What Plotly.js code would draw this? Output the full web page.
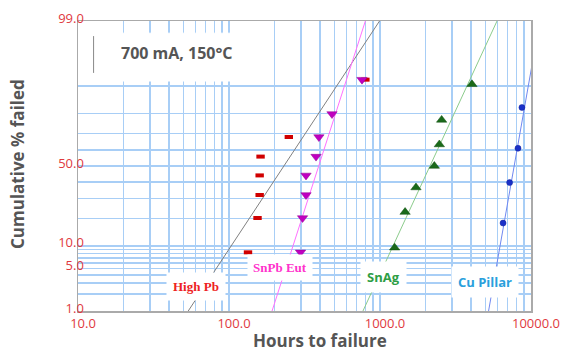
<!DOCTYPE html>
<html>
<head>
<meta charset="utf-8">
<script src="https://cdn.plot.ly/plotly-3.0.1.min.js"></script>
<style>html,body{margin:0;padding:0;background:#fff;}#chart{width:567px;height:352px;}</style>
</head>
<body>
<div id="chart"></div>
<script>
// ---- data (hours to failure, cumulative % failed) ----
const highPbHours = [133.6, 154.5, 159.6, 159.6, 161.8, 249, 800];
const highPbPct   = [8.3, 20.2, 32.1, 44.0, 56.0, 67.9, 91.7];
const snpbHours   = [297.6, 307, 323.6, 323.6, 377, 394, 481, 760];
const snpbPct     = [8.3, 20.2, 32.1, 44.0, 56.0, 67.9, 79.8, 91.7];
const snagHours   = [1250, 1466, 1731, 2290, 2472, 2560, 4064];
const snagPct     = [9.5, 23, 36.5, 50, 63.5, 77, 90.5];
const cuHours     = [6530, 7220, 8200, 8710];
const cuPct       = [18, 39.5, 61.2, 82.6];
// fitted lognormal lines (endpoints: hours at 1% and 99%)
const highPbFitHours = [53.7, 993];
const snpbFitHours   = [192.8, 800];
const snagFitHours   = [771, 5957];
const cuFitHours     = [5236, 11430];
const fitPct         = [1, 99];
// axis ticks
const pctGrid   = [1,2,3,4,5,6,7,8,9,10,20,30,40,50,60,70,80,90,99];
const pctLabels = {1:'1.0', 5:'5.0', 10:'10.0', 50:'50.0', 99:'99.0'};
const hourGrid  = [10,20,30,40,50,60,70,80,90,100,200,300,400,500,600,700,800,900,1000,2000,3000,4000,5000,6000,7000,8000,9000,10000];
const hourLabels = {10:'10.0', 100:'100.0', 1000:'1000.0', 10000:'10000.0'};

// normal-probability scale (inverse normal CDF, Acklam)
function probit(p){
  const a=[-3.969683028665376e+01,2.209460984245205e+02,-2.759285104469687e+02,1.383577518672690e+02,-3.066479806614716e+01,2.506628277459239e+00];
  const b=[-5.447609879822406e+01,1.615858368580409e+02,-1.556989798598866e+02,6.680131188771972e+01,-1.328068155288572e+01];
  const c=[-7.784894002430293e-03,-3.223964580411365e-01,-2.400758277161838e+00,-2.549732539343734e+00,4.374664141464968e+00,2.938163982698783e+00];
  const d=[7.784695709041462e-03,3.224671290700398e-01,2.445134137142996e+00,3.754408661907416e+00];
  const pl=0.02425, ph=1-pl; let q,r;
  if(p<pl){q=Math.sqrt(-2*Math.log(p));return (((((c[0]*q+c[1])*q+c[2])*q+c[3])*q+c[4])*q+c[5])/((((d[0]*q+d[1])*q+d[2])*q+d[3])*q+1);}
  if(p<=ph){q=p-0.5;r=q*q;return (((((a[0]*r+a[1])*r+a[2])*r+a[3])*r+a[4])*r+a[5])*q/(((((b[0]*r+b[1])*r+b[2])*r+b[3])*r+b[4])*r+1);}
  q=Math.sqrt(-2*Math.log(1-p));return -(((((c[0]*q+c[1])*q+c[2])*q+c[3])*q+c[4])*q+c[5])/((((d[0]*q+d[1])*q+d[2])*q+d[3])*q+1);
}
const Z = arr => arr.map(v => probit(v/100));

const F = 'Open Sans, Noto Sans, sans-serif';
const red = '#e0393e';

const traces = [
  {x: highPbFitHours, y: Z(fitPct), mode:'lines', line:{color:'#808080', width:1}, hoverinfo:'skip'},
  {x: snpbFitHours,   y: Z(fitPct), mode:'lines', line:{color:'#ff70ff', width:1}, hoverinfo:'skip'},
  {x: snagFitHours,   y: Z(fitPct), mode:'lines', line:{color:'#8ccc8c', width:1}, hoverinfo:'skip'},
  {x: cuFitHours,     y: Z(fitPct), mode:'lines', line:{color:'#7088f0', width:1}, hoverinfo:'skip'},
  {x: highPbHours, y: Z(highPbPct), mode:'markers', name:'High Pb',
   marker:{symbol:'line-ew', size:6, line:{color:'#d00000', width:4}}},
  {x: snpbHours, y: Z(snpbPct), mode:'markers', name:'SnPb Eut',
   marker:{symbol:'triangle-down', size:9, color:'#c000c0', line:{color:'#900090', width:0.5}}},
  {x: snagHours, y: Z(snagPct), mode:'markers', name:'SnAg',
   marker:{symbol:'triangle-up', size:9, color:'#1a6a1a', line:{color:'#0f4f0f', width:0.5}}},
  {x: cuHours, y: Z(cuPct), mode:'markers', name:'Cu Pillar',
   marker:{symbol:'circle', size:6, color:'#1a30c8', line:{color:'#10209a', width:0.5}}}
];

const grid = '#a8cef6';
const layout = {
  width:567, height:352,
  margin:{l:78, r:36, t:21, b:41},
  paper_bgcolor:'#fff', plot_bgcolor:'#fff',
  showlegend:false,
  font:{family:F},
  xaxis:{type:'log', range:[1,4], tickmode:'array', tickvals:hourGrid,
    ticktext:hourGrid.map(v => hourLabels[v] || ''),
    gridcolor:grid, gridwidth:1.5, showline:true, mirror:true, linecolor:'#aaaaaa', linewidth:1.5,
    ticks:'', ticklen:0, ticklabelshift:5, tickfont:{family:F, size:13, color:red}, zeroline:false},
  yaxis:{range:[probit(0.01), probit(0.99)], tickmode:'array', tickvals:Z(pctGrid),
    ticktext:pctGrid.map(v => pctLabels[v] || ''),
    gridcolor:grid, gridwidth:1.5, showline:true, mirror:true, linecolor:'#aaaaaa', linewidth:1.5,
    ticks:'', ticklen:0, ticklabelstandoff:-10, ticklabelshift:-3, tickfont:{family:F, size:13, color:red}, zeroline:false},
  shapes:[
    {type:'line', xref:'x', yref:'paper', x0:100, x1:100, y0:0, y1:1, layer:'between', line:{color:'#f2a4a4', width:1.5}},
    {type:'line', xref:'x', yref:'paper', x0:1000, x1:1000, y0:0, y1:1, layer:'between', line:{color:'#f2a4a4', width:1.5}},
    {type:'line', xref:'paper', yref:'y', x0:0, x1:1, y0:probit(0.10), y1:probit(0.10), layer:'between', line:{color:'#f2a4a4', width:1.5}},
    {type:'rect', xref:'paper', yref:'paper', x0:0.004, x1:0.418, y0:0.793, y1:0.958, layer:'above', fillcolor:'#ffffff', line:{color:'#ffffff', width:1}},
    {type:'line', xref:'paper', yref:'paper', x0:0.0344, x1:0.0344, y0:0.821, y1:0.948, layer:'above', line:{color:'#888', width:1}}
  ],
  annotations:[
    {xref:'paper', yref:'paper', x:0.2183, y:0.8886, xanchor:'center', yanchor:'middle', text:'<b>700 mA, 150°C</b>', showarrow:false,
     font:{family:F, size:16, color:'#555'}},
    {xref:'paper', yref:'paper', x:0.2605, y:0.0838, xanchor:'center', yanchor:'middle', text:'<b>High Pb</b>', showarrow:false,
     bgcolor:'#fff', borderpad:6, font:{family:'Liberation Serif, serif', size:13, color:'#ee2222'}},
    {xref:'paper', yref:'paper', x:0.4468, y:0.1483, xanchor:'center', yanchor:'middle', text:'<b>SnPb Eut</b>', showarrow:false,
     bgcolor:'#fff', borderpad:5, font:{family:'Liberation Serif, serif', size:13, color:'#ff33cc'}},
    {xref:'paper', yref:'paper', x:0.6746, y:0.1183, xanchor:'center', yanchor:'middle', text:'<b>SnAg</b>', showarrow:false,
     bgcolor:'#fff', borderpad:6, font:{family:F, size:13, color:'#2e9e45'}},
    {xref:'paper', yref:'paper', x:0.898, y:0.101, xanchor:'center', yanchor:'middle', text:'<b>Cu Pillar</b>', showarrow:false,
     bgcolor:'#fff', borderpad:6, font:{family:F, size:13, color:'#2a9fdc'}},
    {xref:'paper', yref:'paper', x:0.5342, y:-0.1034, xanchor:'center', yanchor:'middle', text:'<b>Hours to failure</b>', showarrow:false,
     font:{family:F, size:17, color:'#555'}},
    {xref:'paper', yref:'paper', x:-0.1325, y:0.5069, xanchor:'center', yanchor:'middle', textangle:-90, text:'<b>Cumulative % failed</b>', showarrow:false,
     font:{family:F, size:17, color:'#555'}}
  ]
};
Plotly.newPlot('chart', traces, layout, {staticPlot:true, displayModeBar:false});
</script>
</body>
</html>
